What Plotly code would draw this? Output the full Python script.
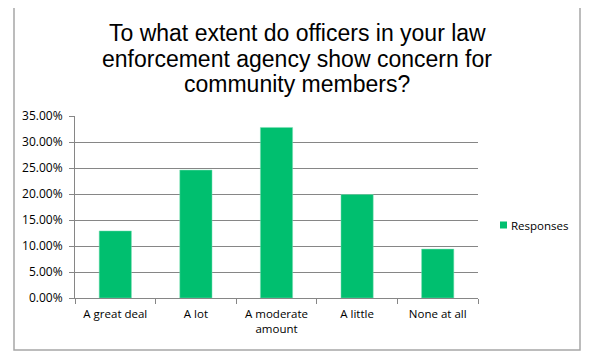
import plotly.graph_objects as go

categories = ["A great deal", "A lot", "A moderate<br>amount", "A little", "None at all"]
values = [0.129, 0.246, 0.328, 0.199, 0.094]
series_name = "Responses"
title_lines = [
    "To what extent do officers in your law",
    "enforcement agency show concern for",
    "community members?",
]
bar_color = "#00BF6F"

OFF = 8  # default page body margin
W, H = 593 - OFF, 362 - OFF
# plot area in picture pixels: x 75..478, y 116..298
L = 75 - OFF
R = W - (478 - OFF)
T = 116 - OFF
B = H - (298 - OFF)
pw, ph = W - L - R, H - T - B

def px_x(x):
    return (x - OFF - L) / pw

def px_y(y):
    return (H - B - (y - OFF)) / ph

fig = go.Figure()
fig.add_trace(go.Bar(
    x=categories, y=values, name=series_name,
    marker=dict(color=bar_color, line=dict(color="#7FE0B7", width=0.5)),
    showlegend=False,
))

fig.update_layout(
    width=W, height=H,
    margin=dict(l=L, r=R, t=T, b=B),
    paper_bgcolor="white", plot_bgcolor="white",
    bargap=0.6,
    showlegend=False,
    font=dict(family="Open Sans, sans-serif", size=11, color="#000000"),
)
fig.update_xaxes(
    showline=True, linecolor="#868686", linewidth=1,
    ticks="outside", ticklen=5, tickcolor="#868686", tickson="boundaries",
    showgrid=False, ticklabelstandoff=5,
    tickfont=dict(family="Open Sans, sans-serif", size=11.5, color="#000000"),
)
fig.update_yaxes(
    range=[0, 0.35], dtick=0.05, tickformat=".2%",
    showline=True, linecolor="#868686", linewidth=1,
    ticks="outside", ticklen=5, tickcolor="#868686",
    showgrid=True, gridcolor="#868686", gridwidth=1,
    zeroline=False, ticklabelstandoff=4,
    tickfont=dict(family="Open Sans, sans-serif", size=12, color="#000000"),
)

# Title lines (tight line spacing like the original)
for i, (line, base) in enumerate(zip(title_lines, [40.7, 66.0, 91.7])):
    fig.add_annotation(text=line, xref="paper", yref="paper",
                       x=px_x(297), y=px_y(base - 7.5), xanchor="center", yanchor="middle",
                       showarrow=False,
                       font=dict(family="Liberation Sans, Arial, sans-serif", size=23, color="#000000"))

# Legend: square swatch + label
fig.add_shape(type="rect", xref="paper", yref="paper",
              x0=px_x(500), x1=px_x(507), y0=px_y(228.5), y1=px_y(221.5),
              line=dict(width=0), fillcolor=bar_color)
fig.add_annotation(text=series_name, xref="paper", yref="paper",
                   x=px_x(509), y=px_y(225), xanchor="left", yanchor="middle",
                   showarrow=False,
                   font=dict(family="Open Sans, sans-serif", size=11.5, color="#000000"))

# Chart border
fig.add_shape(type="rect", xref="paper", yref="paper",
              x0=px_x(14), x1=px_x(580), y0=px_y(350), y1=px_y(7),
              line=dict(color="#A6A6A6", width=1.5), fillcolor="rgba(0,0,0,0)", layer="below")

fig.write_html("out.html")
